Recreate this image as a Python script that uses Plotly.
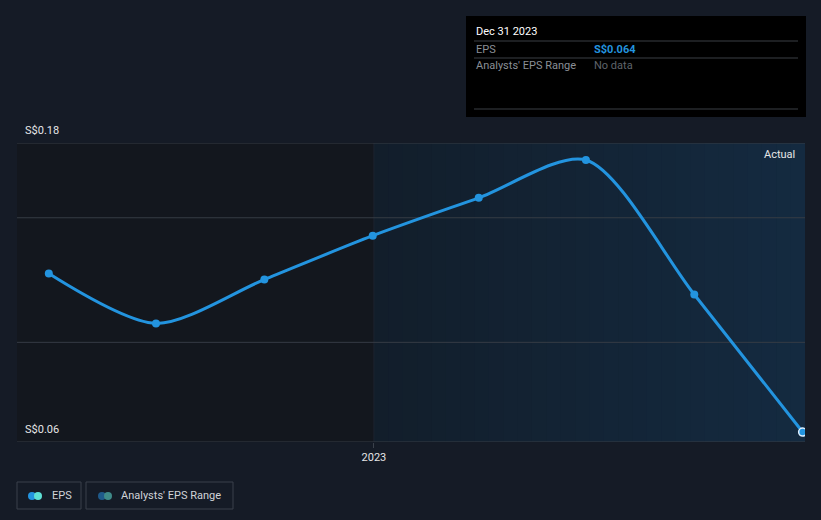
import plotly.graph_objects as go
import pandas as pd

# ---- data ----
dates = ["2022-03-31", "2022-06-30", "2022-09-30", "2022-12-31",
         "2023-03-31", "2023-06-30", "2023-09-30", "2023-12-31"]
eps = [0.1276, 0.1076, 0.1252, 0.1428, 0.158, 0.1732, 0.1192, 0.064]
y_ticks = [0.06, 0.10, 0.15, 0.18]
y_labels = ["S$0.06", "S$0.18"]
x_tick_vals = ["2023-01-01"]
x_tick_text = ["2023"]

W, H = 821, 520
L, R, T, B = 17, 805, 143, 442
X_START, X_END = "2022-03-04", "2024-01-02"
SPLIT = "2023-01-01"

def px(x):
    return (x - L) / (R - L)

def py(y):
    return (B - y) / (B - T)

BG = "#151b26"
LINE = "#2394df"

fig = go.Figure()

fig.add_trace(go.Scatter(
    x=dates, y=eps, mode="lines+markers",
    line=dict(color=LINE, width=3, shape="spline", smoothing=0.8),
    marker=dict(size=8, color=LINE,
                line=dict(width=[0]*7 + [1.5], color="#dbeeff")),
    showlegend=False, hoverinfo="skip"))

shapes = [
    # darker past region
    dict(type="rect", xref="x", yref="paper", x0=X_START, x1=SPLIT,
         y0=0, y1=1, fillcolor="#13171e", line=dict(width=0), layer="below"),
]

# actual region: horizontal gradient built from thin strips
c0 = (0x12, 0x1e, 0x2b)
c1 = (0x14, 0x2a, 0x40)
n = 30
edges = pd.date_range(pd.Timestamp(SPLIT), pd.Timestamp(X_END), periods=n + 1)
for i in range(n):
    t = i / (n - 1)
    col = "rgb({},{},{})".format(*[round(a + (b - a) * t) for a, b in zip(c0, c1)])
    shapes.append(dict(type="rect", xref="x", yref="paper",
                       x0=edges[i].strftime("%Y-%m-%d %H:%M"),
                       x1=(edges[i + 1] + pd.Timedelta(hours=12)).strftime("%Y-%m-%d %H:%M"),
                       y0=0, y1=1, fillcolor=col, line=dict(width=0), layer="below"))

# vertical divider line
shapes.append(dict(type="line", xref="x", yref="paper", x0=SPLIT, x1=SPLIT,
                   y0=0, y1=1, line=dict(color="#1c2430", width=1), layer="below"))

# horizontal grid lines
for v in y_ticks:
    shapes.append(dict(type="line", xref="paper", yref="y", x0=0, x1=1,
                       y0=v, y1=v, line=dict(color="#363c45", width=1),
                       layer="below"))

shapes += [
    # tooltip box
    dict(type="rect", xref="paper", yref="paper", x0=px(466), x1=px(806),
         y0=py(117), y1=py(16), fillcolor="#000000", line=dict(width=0)),
    dict(type="line", xref="paper", yref="paper", x0=px(474), x1=px(798),
         y0=py(41), y1=py(41), line=dict(color="#3b3f45", width=1)),
    dict(type="line", xref="paper", yref="paper", x0=px(474), x1=px(798),
         y0=py(58), y1=py(58), line=dict(color="#3b3f45", width=1)),
    dict(type="line", xref="paper", yref="paper", x0=px(474), x1=px(798),
         y0=py(109), y1=py(109), line=dict(color="#3b3f45", width=1)),
    # legend boxes
    dict(type="rect", xref="paper", yref="paper", x0=px(17), x1=px(81),
         y0=py(509), y1=py(482), line=dict(color="#3b414b", width=1),
         fillcolor="rgba(0,0,0,0)"),
    dict(type="rect", xref="paper", yref="paper", x0=px(86), x1=px(233),
         y0=py(509), y1=py(482), line=dict(color="#3b414b", width=1),
         fillcolor="rgba(0,0,0,0)"),
]

# legend dots
for cx, col in [(32, "#2394df"), (38, "#5ee0d4"), (102, "#1f5a8a"), (108, "#3f8a88")]:
    shapes.append(dict(type="circle", xref="paper", yref="paper",
                       x0=px(cx - 4), x1=px(cx + 4), y0=py(500), y1=py(492),
                       fillcolor=col, line=dict(width=0)))

FONT = "Roboto, Open Sans, sans-serif"
ann = [
    dict(x=0, xref="paper", y=0.18, yref="y", text=y_labels[1], showarrow=False,
         xanchor="left", yanchor="bottom", xshift=6, yshift=4,
         font=dict(color="#e6e6e6", size=11, family=FONT)),
    dict(x=0, xref="paper", y=0.06, yref="y", text=y_labels[0], showarrow=False,
         xanchor="left", yanchor="bottom", xshift=6, yshift=4,
         font=dict(color="#e6e6e6", size=11, family=FONT)),
    dict(x=px(797), xref="paper", y=py(154), yref="paper", text="Actual",
         showarrow=False, xanchor="right", yanchor="middle",
         font=dict(color="#e6e6e6", size=11, family=FONT)),
    dict(x=px(474), xref="paper", y=py(31), yref="paper", text="Dec 31 2023",
         showarrow=False, xanchor="left", yanchor="middle",
         font=dict(color="#ffffff", size=11, family=FONT)),
    dict(x=px(474), xref="paper", y=py(49), yref="paper", text="EPS",
         showarrow=False, xanchor="left", yanchor="middle",
         font=dict(color="#8a8f96", size=11, family=FONT)),
    dict(x=px(592), xref="paper", y=py(49), yref="paper", text="<b>S$0.064</b>",
         showarrow=False, xanchor="left", yanchor="middle",
         font=dict(color="#2394df", size=11, family=FONT)),
    dict(x=px(474), xref="paper", y=py(66), yref="paper", text="Analysts' EPS Range",
         showarrow=False, xanchor="left", yanchor="middle",
         font=dict(color="#8a8f96", size=11, family=FONT)),
    dict(x=px(592), xref="paper", y=py(66), yref="paper", text="No data",
         showarrow=False, xanchor="left", yanchor="middle",
         font=dict(color="#5f646b", size=11, family=FONT)),
    dict(x=px(50), xref="paper", y=py(495), yref="paper", text="EPS",
         showarrow=False, xanchor="left", yanchor="middle",
         font=dict(color="#d0d3d8", size=11, family=FONT)),
    dict(x=px(119), xref="paper", y=py(495), yref="paper", text="Analysts' EPS Range",
         showarrow=False, xanchor="left", yanchor="middle",
         font=dict(color="#d0d3d8", size=11, family=FONT)),
]

fig.update_layout(
    width=W, height=H,
    margin=dict(l=L, r=W - R, t=T, b=H - B),
    paper_bgcolor=BG, plot_bgcolor=BG,
    shapes=shapes, annotations=ann, showlegend=False,
    xaxis=dict(type="date", range=[X_START, X_END],
               tickvals=x_tick_vals, ticktext=x_tick_text,
               showgrid=False, zeroline=False, showline=False,
               ticks="outside", ticklen=5, tickcolor="#3b414b",
               tickfont=dict(color="#e6e6e6", size=11, family=FONT)),
    yaxis=dict(range=[0.06, 0.18], showticklabels=False,
               showgrid=False, zeroline=False, showline=False),
)

fig.write_html("out.html")
